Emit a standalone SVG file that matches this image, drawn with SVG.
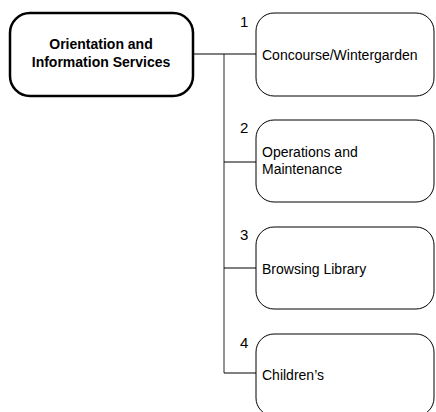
<svg xmlns="http://www.w3.org/2000/svg" width="436" height="412" viewBox="0 0 436 412">
<style>
.box{fill:#fff;stroke:#000;stroke-width:1}
.main{fill:#fff;stroke:#000;stroke-width:2.5}
.t{font-family:"Liberation Sans",Arial,sans-serif;font-size:14px;fill:#000}
.n{font-size:15px}
.b{font-weight:bold;text-anchor:middle}
.c{fill:none;stroke:#000;stroke-width:1}
.v{fill:none;stroke:#707070;stroke-width:1.5}
</style>
<rect width="436" height="412" fill="#fff"/>
<g id="connectors">
<path class="v" d="M224 54 V373"/>
<path class="c" d="M193 54 H256 M224 162 H256 M224 268 H256 M224 373 H256"/>
</g>
<g id="main">
<rect class="main" x="10" y="13" width="183" height="83" rx="20"/>
<text class="t b" x="101" y="49">Orientation and</text>
<text class="t b" x="101" y="67">Information Services</text>
</g>
<g id="n1">
<rect class="box" x="256" y="13" width="178" height="83" rx="18"/>
<text class="t n" x="240" y="27">1</text>
<text class="t" x="262" y="60">Concourse/Wintergarden</text>
</g>
<g id="n2">
<rect class="box" x="256" y="120" width="178" height="82" rx="18"/>
<text class="t n" x="240" y="133">2</text>
<text class="t" x="262" y="157">Operations and</text>
<text class="t" x="262" y="174">Maintenance</text>
</g>
<g id="n3">
<rect class="box" x="256" y="227" width="178" height="82" rx="18"/>
<text class="t n" x="240" y="240">3</text>
<text class="t" x="262" y="274">Browsing Library</text>
</g>
<g id="n4">
<rect class="box" x="256" y="334" width="178" height="82" rx="18"/>
<text class="t n" x="240" y="348">4</text>
<text class="t" x="262" y="380">Children’s</text>
</g>
</svg>
